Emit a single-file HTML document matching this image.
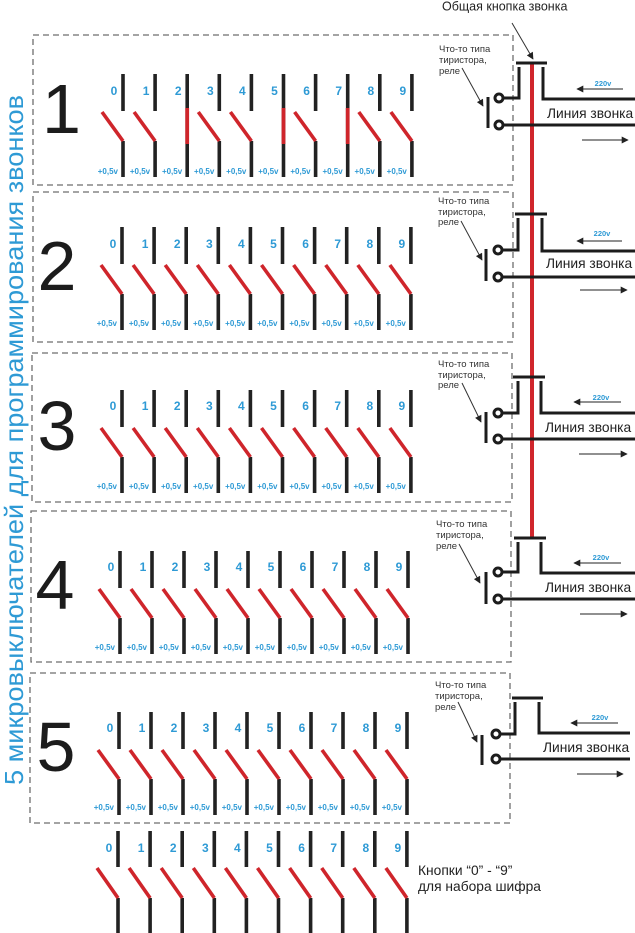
<!DOCTYPE html>
<html>
<head>
<meta charset="utf-8">
<style>
html,body{margin:0;padding:0;background:#fff;}
svg{display:block;}
text{font-family:"Liberation Sans","Noto Sans CJK SC",sans-serif;}
</style>
</head>
<body>
<svg width="635" height="933" viewBox="0 0 635 933" xmlns="http://www.w3.org/2000/svg">
<defs>
  <marker id="ah" viewBox="0 0 10 10" refX="9" refY="5" markerWidth="8" markerHeight="7" markerUnits="userSpaceOnUse" orient="auto">
    <path d="M0,0 L10,5 L0,10 z" fill="#222"/>
  </marker>
  <g id="sw">
    <line x1="0" y1="0" x2="0" y2="37" stroke="#222" stroke-width="3.6"/>
    <line x1="0" y1="67" x2="0" y2="103" stroke="#222" stroke-width="3.6"/>
    <line x1="-21" y1="38" x2="0" y2="67" stroke="#cf252b" stroke-width="3.6"/>
  </g>
  <g id="swc">
    <line x1="0" y1="0" x2="0" y2="103" stroke="#222" stroke-width="3.6"/>
    <line x1="0" y1="34" x2="0" y2="70" stroke="#cf252b" stroke-width="3.8"/>
  </g>
  <g id="swb">
    <line x1="0" y1="0" x2="0" y2="36" stroke="#222" stroke-width="3.6"/>
    <line x1="0" y1="67" x2="0" y2="110" stroke="#222" stroke-width="3.6"/>
    <line x1="-21" y1="37" x2="0" y2="67" stroke="#cf252b" stroke-width="3.6"/>
  </g>
</defs>
<rect x="0" y="0" width="635" height="933" fill="#fff"/>

<!-- dashed boxes -->
<g fill="none" stroke="#6e6e6e" stroke-width="1.3" stroke-dasharray="6 4">
  <rect x="33" y="35" width="480" height="150"/>
  <rect x="33" y="192" width="480" height="150"/>
  <rect x="32" y="353" width="480" height="149"/>
  <rect x="31" y="511" width="480" height="151"/>
  <rect x="30" y="673" width="480" height="150"/>
</g>

<!-- vertical title -->
<text transform="translate(23,785) rotate(-90)" font-size="26" fill="#2e9ad5" textLength="690" lengthAdjust="spacingAndGlyphs">5 микровыключателей для программирования звонков</text>

<!-- big numerals -->
<g font-size="70" fill="#1c1c1c">
  <text x="42" y="133">1</text>
  <text x="57" y="290" text-anchor="middle">2</text>
  <text x="57" y="450" text-anchor="middle">3</text>
  <text x="55" y="609" text-anchor="middle">4</text>
  <text x="56" y="771" text-anchor="middle">5</text>
</g>

<!-- Block 1 switches (top 74) -->
<use href="#sw" x="123" y="74"/>
<use href="#sw" x="155.1" y="74"/>
<use href="#swc" x="187.2" y="74"/>
<use href="#sw" x="219.3" y="74"/>
<use href="#sw" x="251.4" y="74"/>
<use href="#swc" x="283.5" y="74"/>
<use href="#sw" x="315.6" y="74"/>
<use href="#swc" x="347.7" y="74"/>
<use href="#sw" x="379.8" y="74"/>
<use href="#sw" x="411.9" y="74"/>
<g font-size="12" font-weight="bold" fill="#2e9ad5" text-anchor="middle">
  <text x="114" y="95">0</text><text x="146.1" y="95">1</text><text x="178.2" y="95">2</text><text x="210.3" y="95">3</text><text x="242.4" y="95">4</text><text x="274.5" y="95">5</text><text x="306.6" y="95">6</text><text x="338.7" y="95">7</text><text x="370.8" y="95">8</text><text x="402.9" y="95">9</text>
</g>
<g font-size="8" font-weight="bold" fill="#2e9ad5" text-anchor="end">
  <text x="118" y="174">+0,5v</text><text x="150.1" y="174">+0,5v</text><text x="182.2" y="174">+0,5v</text><text x="214.3" y="174">+0,5v</text><text x="246.4" y="174">+0,5v</text><text x="278.5" y="174">+0,5v</text><text x="310.6" y="174">+0,5v</text><text x="342.7" y="174">+0,5v</text><text x="374.8" y="174">+0,5v</text><text x="406.9" y="174">+0,5v</text>
</g>

<!-- Block 2 (top 227) -->
<use href="#sw" x="122" y="227"/><use href="#sw" x="154.1" y="227"/><use href="#sw" x="186.2" y="227"/><use href="#sw" x="218.3" y="227"/><use href="#sw" x="250.4" y="227"/><use href="#sw" x="282.5" y="227"/><use href="#sw" x="314.6" y="227"/><use href="#sw" x="346.7" y="227"/><use href="#sw" x="378.8" y="227"/><use href="#sw" x="410.9" y="227"/>
<g font-size="12" font-weight="bold" fill="#2e9ad5" text-anchor="middle">
  <text x="113" y="248">0</text><text x="145.1" y="248">1</text><text x="177.2" y="248">2</text><text x="209.3" y="248">3</text><text x="241.4" y="248">4</text><text x="273.5" y="248">5</text><text x="305.6" y="248">6</text><text x="337.7" y="248">7</text><text x="369.8" y="248">8</text><text x="401.9" y="248">9</text>
</g>
<g font-size="8" font-weight="bold" fill="#2e9ad5" text-anchor="end">
  <text x="117" y="326">+0,5v</text><text x="149.1" y="326">+0,5v</text><text x="181.2" y="326">+0,5v</text><text x="213.3" y="326">+0,5v</text><text x="245.4" y="326">+0,5v</text><text x="277.5" y="326">+0,5v</text><text x="309.6" y="326">+0,5v</text><text x="341.7" y="326">+0,5v</text><text x="373.8" y="326">+0,5v</text><text x="405.9" y="326">+0,5v</text>
</g>

<!-- Block 3 (top 390) -->
<use href="#sw" x="122" y="390"/><use href="#sw" x="154.1" y="390"/><use href="#sw" x="186.2" y="390"/><use href="#sw" x="218.3" y="390"/><use href="#sw" x="250.4" y="390"/><use href="#sw" x="282.5" y="390"/><use href="#sw" x="314.6" y="390"/><use href="#sw" x="346.7" y="390"/><use href="#sw" x="378.8" y="390"/><use href="#sw" x="410.9" y="390"/>
<g font-size="12" font-weight="bold" fill="#2e9ad5" text-anchor="middle">
  <text x="113" y="410">0</text><text x="145.1" y="410">1</text><text x="177.2" y="410">2</text><text x="209.3" y="410">3</text><text x="241.4" y="410">4</text><text x="273.5" y="410">5</text><text x="305.6" y="410">6</text><text x="337.7" y="410">7</text><text x="369.8" y="410">8</text><text x="401.9" y="410">9</text>
</g>
<g font-size="8" font-weight="bold" fill="#2e9ad5" text-anchor="end">
  <text x="117" y="489">+0,5v</text><text x="149.1" y="489">+0,5v</text><text x="181.2" y="489">+0,5v</text><text x="213.3" y="489">+0,5v</text><text x="245.4" y="489">+0,5v</text><text x="277.5" y="489">+0,5v</text><text x="309.6" y="489">+0,5v</text><text x="341.7" y="489">+0,5v</text><text x="373.8" y="489">+0,5v</text><text x="405.9" y="489">+0,5v</text>
</g>

<!-- Block 4 (top 551) -->
<use href="#sw" x="120" y="551"/><use href="#sw" x="152" y="551"/><use href="#sw" x="184" y="551"/><use href="#sw" x="216" y="551"/><use href="#sw" x="248" y="551"/><use href="#sw" x="280" y="551"/><use href="#sw" x="312" y="551"/><use href="#sw" x="344" y="551"/><use href="#sw" x="376" y="551"/><use href="#sw" x="408" y="551"/>
<g font-size="12" font-weight="bold" fill="#2e9ad5" text-anchor="middle">
  <text x="111" y="571">0</text><text x="143" y="571">1</text><text x="175" y="571">2</text><text x="207" y="571">3</text><text x="239" y="571">4</text><text x="271" y="571">5</text><text x="303" y="571">6</text><text x="335" y="571">7</text><text x="367" y="571">8</text><text x="399" y="571">9</text>
</g>
<g font-size="8" font-weight="bold" fill="#2e9ad5" text-anchor="end">
  <text x="115" y="650">+0,5v</text><text x="147" y="650">+0,5v</text><text x="179" y="650">+0,5v</text><text x="211" y="650">+0,5v</text><text x="243" y="650">+0,5v</text><text x="275" y="650">+0,5v</text><text x="307" y="650">+0,5v</text><text x="339" y="650">+0,5v</text><text x="371" y="650">+0,5v</text><text x="403" y="650">+0,5v</text>
</g>

<!-- Block 5 (top 712) -->
<use href="#sw" x="119" y="712"/><use href="#sw" x="151" y="712"/><use href="#sw" x="183" y="712"/><use href="#sw" x="215" y="712"/><use href="#sw" x="247" y="712"/><use href="#sw" x="279" y="712"/><use href="#sw" x="311" y="712"/><use href="#sw" x="343" y="712"/><use href="#sw" x="375" y="712"/><use href="#sw" x="407" y="712"/>
<g font-size="12" font-weight="bold" fill="#2e9ad5" text-anchor="middle">
  <text x="110" y="732">0</text><text x="142" y="732">1</text><text x="174" y="732">2</text><text x="206" y="732">3</text><text x="238" y="732">4</text><text x="270" y="732">5</text><text x="302" y="732">6</text><text x="334" y="732">7</text><text x="366" y="732">8</text><text x="398" y="732">9</text>
</g>
<g font-size="8" font-weight="bold" fill="#2e9ad5" text-anchor="end">
  <text x="114" y="810">+0,5v</text><text x="146" y="810">+0,5v</text><text x="178" y="810">+0,5v</text><text x="210" y="810">+0,5v</text><text x="242" y="810">+0,5v</text><text x="274" y="810">+0,5v</text><text x="306" y="810">+0,5v</text><text x="338" y="810">+0,5v</text><text x="370" y="810">+0,5v</text><text x="402" y="810">+0,5v</text>
</g>

<!-- Bottom keypad row (top 831) -->
<use href="#swb" x="118" y="831"/><use href="#swb" x="150.1" y="831"/><use href="#swb" x="182.2" y="831"/><use href="#swb" x="214.3" y="831"/><use href="#swb" x="246.4" y="831"/><use href="#swb" x="278.5" y="831"/><use href="#swb" x="310.6" y="831"/><use href="#swb" x="342.7" y="831"/><use href="#swb" x="374.8" y="831"/><use href="#swb" x="406.9" y="831"/>
<g font-size="12" font-weight="bold" fill="#2e9ad5" text-anchor="middle">
  <text x="109" y="852">0</text><text x="141.1" y="852">1</text><text x="173.2" y="852">2</text><text x="205.3" y="852">3</text><text x="237.4" y="852">4</text><text x="269.5" y="852">5</text><text x="301.6" y="852">6</text><text x="333.7" y="852">7</text><text x="365.8" y="852">8</text><text x="397.9" y="852">9</text>
</g>
<g font-size="13.8" fill="#222">
  <text x="418" y="875">Кнопки “0” - “9”</text>
  <text x="418" y="891">для набора шифра</text>
</g>

<!-- Common button label -->
<text x="442" y="10.5" font-size="12.5" fill="#222">Общая кнопка звонка</text>
<line x1="512" y1="23" x2="533" y2="59" stroke="#333" stroke-width="1" marker-end="url(#ah)"/>

<!-- red common line -->
<line x1="532" y1="62" x2="532" y2="538" stroke="#d0262c" stroke-width="4"/>

<!-- Relays -->
<g fill="none" stroke="#1c1c1c" stroke-width="3">
  <!-- R1 -->
  <line x1="516" y1="63" x2="547" y2="63"/>
  <path d="M519 67 V98 H503"/>
  <path d="M543 67 V99 H635"/>
  <line x1="503" y1="125" x2="635" y2="125"/>
  <line x1="488" y1="97" x2="488" y2="128"/>
  <circle cx="499" cy="98" r="4" fill="#fff"/>
  <circle cx="499" cy="125" r="4" fill="#fff"/>
  <!-- R2 -->
  <line x1="515" y1="214" x2="547" y2="214"/>
  <path d="M518 218 V250 H502"/>
  <path d="M542 218 V251 H635"/>
  <line x1="502" y1="277" x2="635" y2="277"/>
  <line x1="486" y1="249" x2="486" y2="281"/>
  <circle cx="498" cy="250" r="4" fill="#fff"/>
  <circle cx="498" cy="277" r="4" fill="#fff"/>
  <!-- R3 -->
  <line x1="513" y1="377" x2="545" y2="377"/>
  <path d="M518 381 V413 H502"/>
  <path d="M541 381 V413 H635"/>
  <line x1="502" y1="439" x2="635" y2="439"/>
  <line x1="486" y1="412" x2="486" y2="443"/>
  <circle cx="498" cy="413" r="4" fill="#fff"/>
  <circle cx="498" cy="439" r="4" fill="#fff"/>
  <!-- R4 -->
  <line x1="514" y1="538" x2="546" y2="538"/>
  <path d="M518 542 V572 H502"/>
  <path d="M541 542 V573 H635"/>
  <line x1="502" y1="599" x2="635" y2="599"/>
  <line x1="486" y1="572" x2="486" y2="604"/>
  <circle cx="498" cy="572" r="4" fill="#fff"/>
  <circle cx="498" cy="599" r="4" fill="#fff"/>
  <!-- R5 -->
  <line x1="512" y1="698" x2="543" y2="698"/>
  <path d="M515 702 V734 H500"/>
  <path d="M539 702 V733 H630"/>
  <line x1="500" y1="759" x2="630" y2="759"/>
  <line x1="482" y1="735" x2="482" y2="765"/>
  <circle cx="496" cy="734" r="4" fill="#fff"/>
  <circle cx="496" cy="759" r="4" fill="#fff"/>
</g>

<!-- relay annotations -->
<g font-size="9.5" fill="#333">
  <text x="439" y="52">Что-то типа</text><text x="439" y="63">тиристора,</text><text x="439" y="74">реле</text>
  <text x="438" y="204">Что-то типа</text><text x="438" y="215">тиристора,</text><text x="438" y="225">реле</text>
  <text x="438" y="367">Что-то типа</text><text x="438" y="378">тиристора,</text><text x="438" y="388">реле</text>
  <text x="436" y="527">Что-то типа</text><text x="436" y="538">тиристора,</text><text x="436" y="549">реле</text>
  <text x="435" y="688">Что-то типа</text><text x="435" y="699">тиристора,</text><text x="435" y="710">реле</text>
</g>
<g stroke="#333" stroke-width="1" marker-end="url(#ah)">
  <line x1="462" y1="68" x2="483" y2="106"/>
  <line x1="461" y1="221" x2="482" y2="260"/>
  <line x1="462" y1="383" x2="481" y2="422"/>
  <line x1="459" y1="544" x2="480" y2="583"/>
  <line x1="458" y1="702" x2="477" y2="742"/>
</g>

<!-- 220v labels -->
<g font-size="7.5" font-weight="bold" fill="#2e9ad5" text-anchor="middle">
  <text x="603" y="86">220v</text>
  <text x="602" y="236">220v</text>
  <text x="601" y="400">220v</text>
  <text x="601" y="560">220v</text>
  <text x="600" y="720">220v</text>
</g>
<g stroke="#222" stroke-width="1" marker-end="url(#ah)">
  <line x1="623" y1="89" x2="577" y2="89"/>
  <line x1="622" y1="241" x2="577" y2="241"/>
  <line x1="621" y1="402" x2="574" y2="402"/>
  <line x1="621" y1="563" x2="574" y2="563"/>
  <line x1="618" y1="723" x2="571" y2="723"/>
  <line x1="582" y1="140" x2="628" y2="140"/>
  <line x1="580" y1="290" x2="627" y2="290"/>
  <line x1="579" y1="454" x2="627" y2="454"/>
  <line x1="580" y1="614" x2="627" y2="614"/>
  <line x1="577" y1="774" x2="623" y2="774"/>
</g>
<g font-size="13.8" fill="#222">
  <text x="547" y="118">Линия звонка</text>
  <text x="546" y="268">Линия звонка</text>
  <text x="545" y="432">Линия звонка</text>
  <text x="545" y="592">Линия звонка</text>
  <text x="543" y="752">Линия звонка</text>
</g>
</svg>
</body>
</html>
